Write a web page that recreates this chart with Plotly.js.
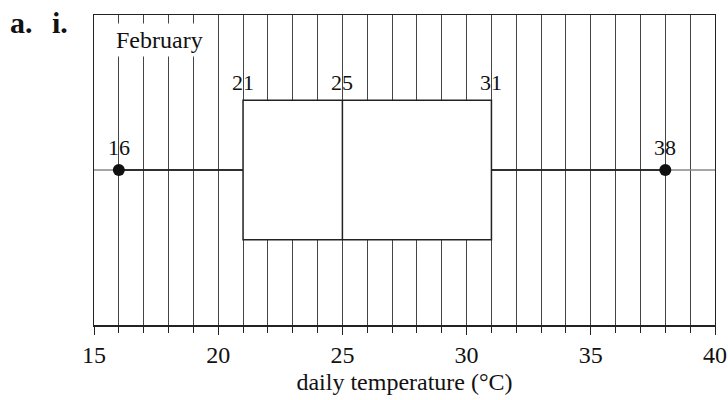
<!DOCTYPE html>
<html>
<head>
<meta charset="utf-8">
<script src="https://cdn.plot.ly/plotly-3.0.1.min.js"></script>
<style>html,body{margin:0;padding:0;background:#fff;}#chart{width:728px;height:400px;}</style>
</head>
<body>
<div id="chart"></div>
<script>
// Data
const monthLabel = "February";
const minimum = [16];
const lowerQuartile = [21];
const medianVal = [25];
const upperQuartile = [31];
const maximum = [38];
const axisRange = [15, 40];
const majorTicks = [15, 20, 25, 30, 35, 40];
const majorTickLabels = ["15", "20", "25", "30", "35", "40"];
const xTitle = "daily temperature (°C)";

const serif = "Liberation Serif, Times New Roman, serif";
const ink = "#222";

const traces = [
  // faint reference line continuing beyond the extremes
  {
    type: "scatter", mode: "lines",
    x: [axisRange[0], minimum[0], null, maximum[0], axisRange[1]], y: [0, 0, null, 0, 0],
    line: {color: "#888", width: 1.5},
    hoverinfo: "skip", showlegend: false
  },
  // whiskers drawn explicitly (dark)
  {
    type: "scatter", mode: "lines",
    x: [minimum[0], lowerQuartile[0], null, upperQuartile[0], maximum[0]], y: [0, 0, null, 0, 0],
    line: {color: ink, width: 1.5},
    hoverinfo: "skip", showlegend: false
  },
  {
    type: "box", orientation: "h",
    y: [0],
    q1: lowerQuartile, median: medianVal, q3: upperQuartile,
    lowerfence: minimum, upperfence: maximum,
    width: 0.9, whiskerwidth: 0,
    fillcolor: "#ffffff",
    line: {color: ink, width: 1.5},
    boxpoints: false, showlegend: false, hoverinfo: "skip"
  },
  {
    type: "scatter", mode: "markers",
    x: [minimum[0], maximum[0]], y: [0, 0],
    marker: {color: "#111", size: 12},
    showlegend: false, hoverinfo: "skip"
  }
];

const valueFont = {family: serif, size: 22, color: "#111"};
const annotations = [];
[minimum[0], maximum[0]].forEach(v => annotations.push({
  x: v, y: 0, xref: "x", yref: "y", text: String(v), showarrow: false,
  yanchor: "bottom", yshift: 8, font: valueFont
}));
[lowerQuartile[0], medianVal[0], upperQuartile[0]].forEach(v => annotations.push({
  x: v, y: 0.45, xref: "x", yref: "y", text: String(v), showarrow: false,
  yanchor: "bottom", yshift: 3, font: valueFont
}));
annotations.push({
  x: 17.65, y: 0.84, xref: "x", yref: "y", text: monthLabel, showarrow: false,
  font: {family: serif, size: 24, color: "#111"}, bgcolor: "#ffffff", borderpad: 3
});
annotations.push({
  x: -0.1385, y: 0.977, xref: "paper", yref: "paper", xanchor: "left", yanchor: "middle", text: "<b>a.</b>",
  showarrow: false, font: {family: serif, size: 30, color: "#111"}
});
annotations.push({
  x: -0.071, y: 0.977, xref: "paper", yref: "paper", xanchor: "left", yanchor: "middle", text: "<b>i.</b>",
  showarrow: false, font: {family: serif, size: 30, color: "#111"}
});

const layout = {
  width: 728, height: 400,
  margin: {l: 94, r: 13, t: 15, b: 75},
  paper_bgcolor: "#ffffff", plot_bgcolor: "#ffffff",
  showlegend: false,
  font: {family: serif, color: "#111"},
  xaxis: {
    range: axisRange, tickmode: "array", tickvals: majorTicks, ticktext: majorTickLabels,
    ticks: "outside", ticklen: 8, tickcolor: ink, tickwidth: 1,
    showgrid: true, gridcolor: "#444", gridwidth: 1,
    minor: {dtick: 1, tick0: 15, showgrid: true, gridcolor: "#444", gridwidth: 1, ticks: "outside", ticklen: 6, tickcolor: ink},
    showline: true, mirror: true, linecolor: ink, linewidth: 1.5,
    zeroline: false,
    tickfont: {family: serif, size: 24, color: "#111"},
    title: {text: xTitle, font: {family: serif, size: 24, color: "#111"}, standoff: 6}
  },
  yaxis: {
    type: "linear", range: [-1, 1], showticklabels: false, ticks: "",
    showgrid: false, zeroline: false,
    showline: true, mirror: true, linecolor: ink, linewidth: 1
  },
  annotations: annotations
};

Plotly.newPlot("chart", traces, layout, {displayModeBar: false, staticPlot: true});
</script>
</body>
</html>
